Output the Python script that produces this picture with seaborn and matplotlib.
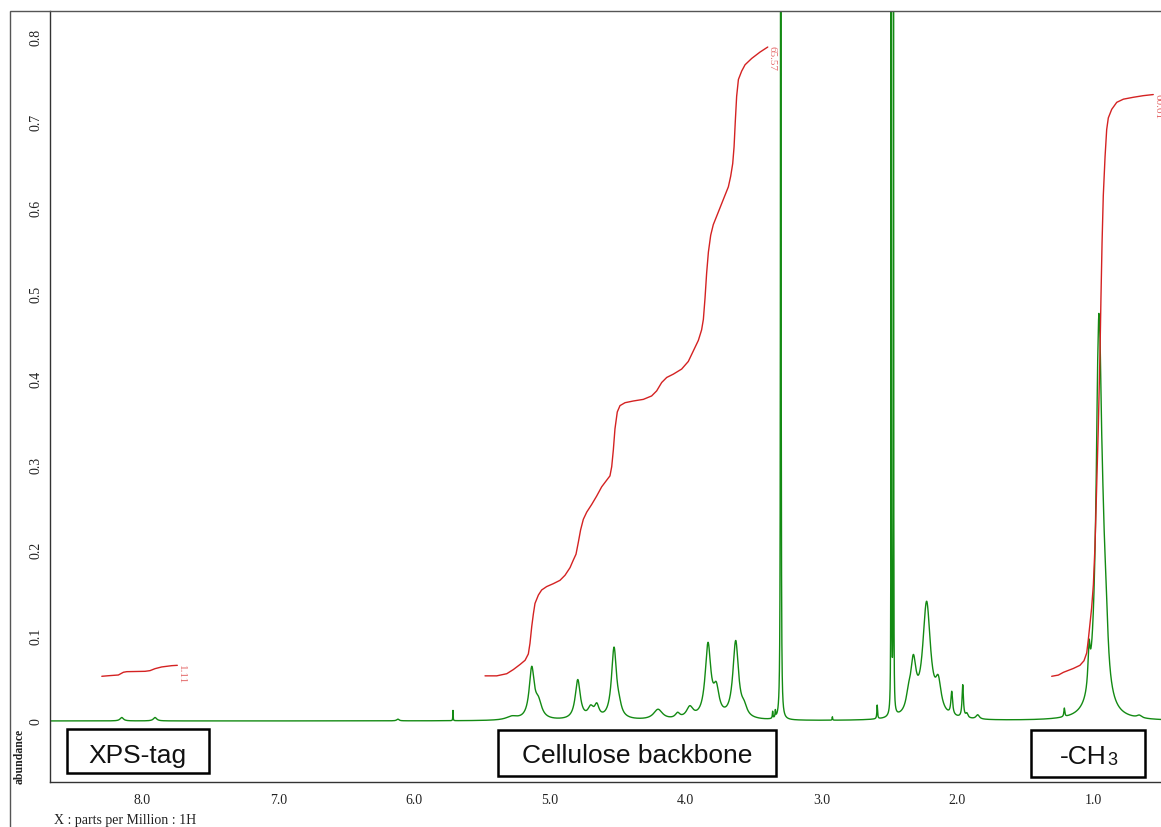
import numpy as np
import matplotlib
matplotlib.use("Agg")
import matplotlib.pyplot as plt
from matplotlib.patches import Rectangle
from matplotlib.ticker import MultipleLocator, FuncFormatter, FormatStrFormatter
import seaborn as sns

# ---------------------------------------------------------------------------
# 1H NMR peak table: chemical shift (ppm), height (abundance), FWHM (ppm)
# ---------------------------------------------------------------------------
peak_ppm = [8.153, 7.908, 6.12, 5.714,
            5.28, 5.134, 5.085, 4.795, 4.70, 4.655, 4.528, 4.49,
            4.204, 4.06, 3.97, 3.836, 3.775, 3.632, 3.57, 3.36, 3.34,
            3.300, 2.92, 2.487, 2.470, 2.48, 2.59,
            2.36, 2.324, 2.226, 2.14, 2.041, 1.96, 1.93, 1.85,
            1.212, 1.03, 0.968, 0.958, 0.948, 0.958, 0.93, 0.905, 0.66]
peak_height = [0.004, 0.004, 0.002, 0.012,
               0.004, 0.058, 0.018, 0.046, 0.012, 0.014, 0.083, 0.008,
               0.012, 0.006, 0.013, 0.085, 0.030, 0.090, 0.010, 0.008, 0.008,
               2.0, 0.004, 1.2, 1.2, 0.02, 0.016,
               0.015, 0.058, 0.133, 0.033, 0.027, 0.038, 0.005, 0.005,
               0.010, 0.045, 0.020, 0.020, 0.020, 0.400, 0.095, 0.045, 0.003]
peak_fwhm = [0.03, 0.03, 0.02, 0.003,
             0.10, 0.045, 0.06, 0.045, 0.05, 0.04, 0.045, 0.04,
             0.08, 0.04, 0.06, 0.05, 0.05, 0.05, 0.05, 0.005, 0.005,
             0.0035, 0.004, 0.0025, 0.0025, 0.012, 0.006,
             0.04, 0.05, 0.07, 0.05, 0.015, 0.012, 0.02, 0.03,
             0.008, 0.018, 0.010, 0.010, 0.010, 0.050, 0.05, 0.035, 0.04]

# Integral traces (ppm, abundance) for the three integrated regions
int_xps_ppm = [8.300, 8.239, 8.178, 8.141, 8.116, 7.982, 7.945, 7.908, 7.859, 7.785, 7.744]
int_xps_val = [0.0522, 0.0530, 0.0537, 0.0569, 0.0576, 0.0580, 0.0588, 0.0611, 0.0631, 0.0646, 0.0650]

int_cell_ppm = [5.478, 5.392, 5.318, 5.269, 5.220, 5.183, 5.159, 5.147, 5.134, 5.122,
                5.110, 5.085, 5.061, 5.024, 4.975, 4.926, 4.889, 4.852, 4.828, 4.808,
                4.791, 4.774, 4.754, 4.729, 4.693, 4.656, 4.619, 4.582, 4.558, 4.545,
                4.533, 4.521, 4.504, 4.484, 4.447, 4.386, 4.312, 4.251, 4.214, 4.177,
                4.140, 4.091, 4.030, 3.981, 3.944, 3.907, 3.883, 3.870, 3.858, 3.846,
                3.833, 3.816, 3.797, 3.760, 3.723, 3.686, 3.669, 3.654, 3.644, 3.635,
                3.625, 3.612, 3.588, 3.563, 3.514, 3.453, 3.396]
int_cell_val = [0.0527, 0.0527, 0.0552, 0.0601, 0.0660, 0.0709, 0.0783, 0.0906, 0.1103, 0.1250,
                0.1373, 0.1471, 0.1530, 0.1570, 0.1604, 0.1643, 0.1702, 0.1791, 0.1879, 0.1948,
                0.2086, 0.2233, 0.2356, 0.2440, 0.2528, 0.2627, 0.2735, 0.2813, 0.2863, 0.2971,
                0.3167, 0.3413, 0.3610, 0.3684, 0.3718, 0.3738, 0.3757, 0.3797, 0.3856, 0.3954,
                0.4013, 0.4052, 0.4111, 0.4200, 0.4323, 0.4446, 0.4569, 0.4692, 0.4937, 0.5232,
                0.5478, 0.5675, 0.5798, 0.5945, 0.6093, 0.6240, 0.6363, 0.6511, 0.6707, 0.7002,
                0.7297, 0.7494, 0.7592, 0.7666, 0.7740, 0.7814, 0.7873]

int_ch3_ppm = [1.305, 1.256, 1.219, 1.182, 1.146, 1.097, 1.067, 1.047, 1.035, 1.023,
               1.011, 0.998, 0.986, 0.974, 0.962, 0.949, 0.942, 0.934, 0.925, 0.912,
               0.900, 0.888, 0.863, 0.826, 0.777, 0.704, 0.630, 0.557]
int_ch3_val = [0.0522, 0.0536, 0.0568, 0.0591, 0.0613, 0.0650, 0.0704, 0.0795, 0.0954, 0.1136,
               0.1318, 0.1591, 0.2045, 0.2727, 0.3409, 0.4318, 0.4954, 0.5591, 0.6136, 0.6591,
               0.6909, 0.7045, 0.7145, 0.7227, 0.7264, 0.7286, 0.7305, 0.7318]

integral_labels = ["1.11", "65.57", "60.61"]
region_labels = ["XPS-tag", "Cellulose backbone", "-CH"]
ch3_subscript = "3"

# ---------------------------------------------------------------------------
# Spectrum as a sum of Lorentzian lines
# ---------------------------------------------------------------------------
ppm = np.linspace(8.75, 0.45, 50001)
spec = np.zeros_like(ppm)
for c, h, w in zip(peak_ppm, peak_height, peak_fwhm):
    spec += h / (1.0 + ((ppm - c) / (w / 2.0)) ** 2)

# ---------------------------------------------------------------------------
# Figure
# ---------------------------------------------------------------------------
sns.set_style("white")
plt.rcParams["font.family"] = ["Liberation Serif", "DejaVu Serif"]

W, H = 1161, 828
fig = plt.figure(figsize=(W / 100, H / 100), dpi=100)

ax_left, ax_bottom, ax_top = 49.8, 783.0, 12.0
ax = fig.add_axes([ax_left / W, 1 - ax_bottom / H, 1 - ax_left / W, (ax_bottom - ax_top) / H])

green = "#138a13"
red = "#d42222"
label_red = "#e46a6a"
spine_col = "#333333"

sns.lineplot(x=ppm, y=spec, ax=ax, color=green, lw=1.0, estimator=None, sort=False)
for xs, ys in [(int_xps_ppm, int_xps_val), (int_cell_ppm, int_cell_val), (int_ch3_ppm, int_ch3_val)]:
    sns.lineplot(x=xs, y=ys, ax=ax, color=red, lw=1.0, estimator=None, sort=False)

ax.set_xlim(8.683, 0.50)
ax.set_ylim(-0.0713, 0.8294)

# integral values written vertically at the end of each trace
for xs, ys, lab in [(int_xps_ppm, int_xps_val, integral_labels[0]),
                    (int_cell_ppm, int_cell_val, integral_labels[1]),
                    (int_ch3_ppm, int_ch3_val, integral_labels[2])]:
    ax.text(xs[-1], ys[-1] + 0.002, lab, rotation=270, ha="left", va="top",
            color=label_red, fontsize=8, clip_on=False)

# axes styling
for s in ["top", "right"]:
    ax.spines[s].set_visible(False)
for s in ["left", "bottom"]:
    ax.spines[s].set_color(spine_col)
    ax.spines[s].set_linewidth(1.0)

ax.xaxis.set_major_locator(MultipleLocator(1.0))
ax.xaxis.set_minor_locator(MultipleLocator(0.1))
ax.yaxis.set_major_locator(MultipleLocator(0.1))
ax.yaxis.set_minor_locator(MultipleLocator(0.01))
ax.xaxis.set_major_formatter(FormatStrFormatter("%.1f"))
ax.yaxis.set_major_formatter(FuncFormatter(lambda v, p: "0" if abs(v) < 1e-9 else f"{v:.1f}"))
ax.tick_params(which="major", direction="out", length=4, width=0.8, color=spine_col,
               labelsize=10, labelcolor="#222222")
ax.tick_params(which="minor", direction="out", length=2.5, width=0.7, color=spine_col)
ax.tick_params(axis="x", which="major", pad=4)
ax.tick_params(axis="y", which="major", pad=1, labelrotation=90)
for t in ax.get_yticklabels():
    t.set_va("center")
ax.set_xlabel("")
ax.set_ylabel("")


def px2ppm(x):
    return 8.0 - (x - 142.5) / 135.8


def px2val(y):
    return (722.0 - y) / 856.0


# labelled boxes under the spectrum (pixel layout -> data coords)
boxes = [(67, 730, 208.6, 774, 0.24), (498.3, 731, 775.5, 777, 0.30), (1030.7, 731, 1145.3, 778, 0.30)]
box_font = ["Liberation Sans", "DejaVu Sans"]
for i, (x0, y0, x1, y1, bfrac) in enumerate(boxes):
    p0, p1 = px2ppm(x0), px2ppm(x1)
    v0, v1 = px2val(y1), px2val(y0)
    ax.add_patch(Rectangle((p1, v0), p0 - p1, v1 - v0, fill=True, facecolor="white",
                           edgecolor="black", lw=1.8, zorder=4))
    base = v0 + bfrac * (v1 - v0)
    if i < 2:
        ax.text((p0 + p1) / 2, base, region_labels[i], ha="center", va="baseline",
                fontsize=19, family=box_font, color="#111111", zorder=5)
    else:
        t1 = ax.text(0, base, region_labels[i], ha="left", va="baseline",
                     fontsize=19, family=box_font, color="#111111", zorder=5)
        t2 = ax.text(0, base, ch3_subscript, ha="left", va="baseline",
                     fontsize=13, family=box_font, color="#111111", zorder=5)
        fig.canvas.draw()
        r = fig.canvas.get_renderer()
        w1 = t1.get_window_extent(r).width
        w2 = t2.get_window_extent(r).width
        cx_disp, by_disp = ax.transData.transform(((p0 + p1) / 2, base))
        start = cx_disp - (w1 + w2) / 2
        inv = ax.transData.inverted()
        t1.set_position(inv.transform((start, by_disp)))
        t2.set_position(inv.transform((start + w1 + 1, by_disp - 1.5)))

# outer frame of the plot window (left and top edges visible)
fig.patches.append(Rectangle((9.6 / W, -0.05), 1.2, 1 - 12 / H + 0.05, transform=fig.transFigure,
                             fill=False, edgecolor="#555555", lw=1.0))

fig.text(20 / W, 1 - 756 / H, "abundance", rotation=90, ha="center", va="center",
         fontsize=8.5, fontweight="bold", color="#222222")
fig.text(53.6 / W, 1 - 821 / H, "X : parts per Million : 1H", ha="left", va="center",
         fontsize=10, color="#222222")

fig.savefig("out.png", dpi=100)
